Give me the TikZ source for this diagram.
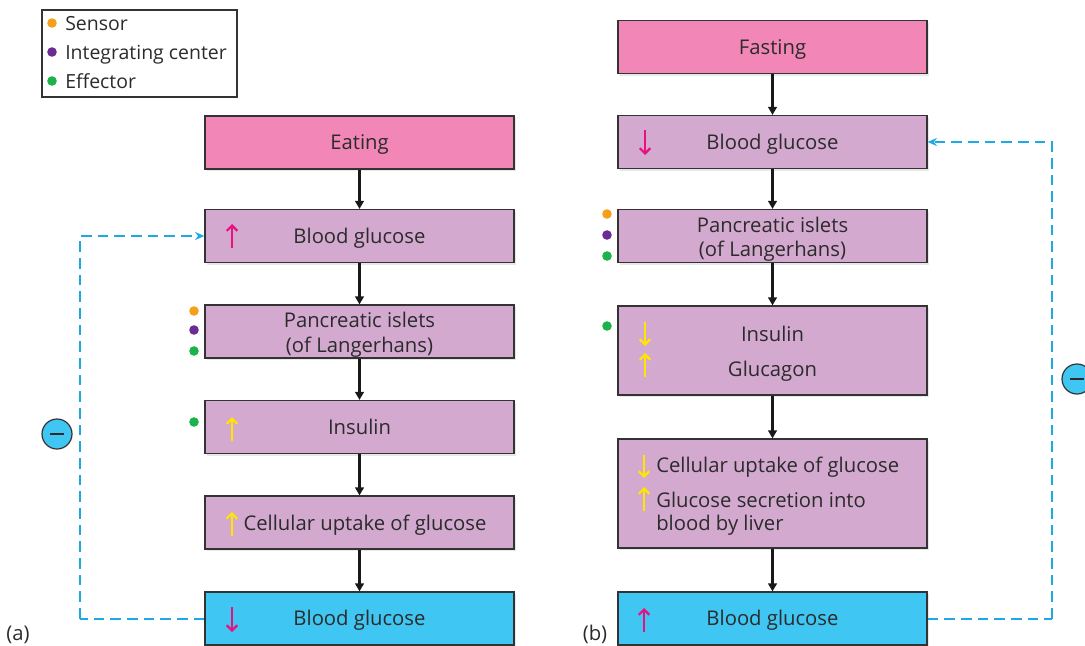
\documentclass[tikz,border=0pt]{standalone}
\usepackage{fontspec}
\setmainfont{Open Sans}
\usetikzlibrary{arrows.meta,shadows}
\definecolor{pinkbox}{HTML}{F287B7}
\definecolor{lavbox}{HTML}{D3A9D0}
\definecolor{bluebox}{HTML}{40C6F2}
\definecolor{fbblue}{HTML}{1DA9E6}
\definecolor{magarrow}{HTML}{E8117F}
\definecolor{yelarrow}{HTML}{FFE600}
\definecolor{sensorc}{HTML}{F6A01A}
\definecolor{intc}{HTML}{6B2C91}
\definecolor{effc}{HTML}{1BB24B}
\definecolor{txt}{HTML}{2B2B2B}
\definecolor{edge}{HTML}{333333}
\begin{document}
\begin{tikzpicture}[x=0.75pt,y=-0.75pt,
  every node/.style={text=txt},
  lbl/.style={font=\fontsize{15.2}{18.2}\selectfont},
  leg/.style={font=\fontsize{14.6}{18}\selectfont, anchor=mid west, inner sep=0pt},
  tx/.style={lbl, inner sep=0pt, align=center},
  box/.style={lbl, draw=edge, line width=0.9pt, minimum width=231.75pt, inner sep=0pt, align=center,
    drop shadow={opacity=0.18, shadow xshift=1.5pt, shadow yshift=-1.5pt}},
  hs/.style={minimum height=39.75pt},
  one/.style={text height=1.3em, text depth=0.25em},
  pinkb/.style={box, hs, one, fill=pinkbox},
  lavb/.style={box, fill=lavbox},
  blueb/.style={box, hs, one, fill=bluebox},
  flow/.style={draw=black!90, line width=1.6pt, -{Triangle[length=6pt,width=6.5pt]}},
  fb/.style={draw=fbblue, line width=1.5pt, dash pattern=on 8pt off 4.5pt, -{Stealth[length=7pt,width=6pt]}},
  fbl/.style={draw=fbblue, line width=1.5pt, dash pattern=on 8pt off 4.5pt},
  magup/.style={draw=magarrow, line width=1.6pt, -{Straight Barb[length=4pt,width=8pt]}},
  yelup/.style={draw=yelarrow, line width=1.6pt, -{Straight Barb[length=4pt,width=8pt]}},
  dot/.style={circle, inner sep=0pt, minimum size=7.2pt},
  minuscirc/.style={circle, draw=edge, line width=0.9pt, fill=bluebox, minimum size=22.5pt, inner sep=0pt}
]
\useasboundingbox (0,0) rectangle (1085,646);

% legend
\node[draw=edge, line width=0.8pt, minimum width=146.25pt, minimum height=65.25pt, inner sep=0pt] (legend) at (139.5,53.5) {};
\node[dot, fill=sensorc] (ls) at (52,23) {};
\node[dot, fill=intc] (li) at (52,52) {};
\node[dot, fill=effc] (le) at (52,81) {};
\node[leg] (lst) at (65,27) {Sensor};
\node[leg] (lit) at (65,56) {Integrating center};
\node[leg] (let) at (65,85) {Effector};

% ---------- (a) ----------
\node[pinkb] (eat) at (359.5,142.5) {Eating};
\node[lavb, hs, one] (bgL1) at (359.5,236) {Blood glucose};
\node[lavb, hs] (panL) at (359.5,331.5) {};
\node[tx] (panLt) at ([yshift=-2.4pt]panL.center) {Pancreatic islets\\(of Langerhans)};
\node[lavb, hs, one] (insL) at (359.5,427) {Insulin};
\node[lavb, hs] (cellL) at (359.5,522.5) {};
\node[lbl, inner sep=0pt, anchor=mid] (cellLt) at (365,527) {Cellular uptake of glucose};
\node[blueb] (bgL2) at (359.5,618.5) {Blood glucose};

\draw[flow] (eat) -- (bgL1);
\draw[flow] (bgL1) -- (panL);
\draw[flow] (panL) -- (insL);
\draw[flow] (insL) -- (cellL);
\draw[flow] (cellL) -- (bgL2);

\draw[magup] (232,248) -- (232,224);
\draw[magup] (232,607) -- (232,632);
\draw[yelup] (232,441) -- (232,417);
\draw[yelup] ([xshift=-8.5pt]cellLt.west |- 0,536) -- ([xshift=-8.5pt]cellLt.west |- 0,512);

\node[dot, fill=sensorc] (dLs) at (194,311) {};
\node[dot, fill=intc] (dLi) at (194,330) {};
\node[dot, fill=effc] (dLe) at (194,351) {};
\node[dot, fill=effc] (dLe2) at (194,422) {};

\coordinate (fbLc) at (80,618.5);
\draw[fbl] (bgL2.west) -- (fbLc);
\draw[fb] (fbLc) |- (bgL1.west);
\node[minuscirc] (mL) at (57,434) {};
\draw[line width=1.4pt, draw=txt] ([xshift=-5.5pt]mL.center) -- ([xshift=5.5pt]mL.center);

\node[lbl, inner sep=0pt, anchor=mid] (la) at (18,637) {(a)};

% ---------- (b) ----------
\node[pinkb] (fast) at (772.5,47) {Fasting};
\node[lavb, hs, one] (bgR1) at (772.5,142) {Blood glucose};
\node[lavb, hs] (panR) at (772.5,236) {};
\node[tx] (panRt) at ([yshift=-2.4pt]panR.center) {Pancreatic islets\\(of Langerhans)};
\node[lavb, minimum height=66.75pt] (insR) at (772.5,350.5) {};
\node[tx] (insRt) at ([yshift=-2.4pt]insR.center) {Insulin\\[7.5pt]Glucagon};
\node[lavb, minimum height=81.75pt] (cellR) at (772.5,493.5) {};
\node[lbl, anchor=mid west, inner sep=0pt] (cellR1) at (656,469) {Cellular uptake of glucose};
\node[lbl, anchor=mid west, inner sep=0pt] (cellR2) at (656,504) {Glucose secretion into};
\node[lbl, anchor=mid west, inner sep=0pt] (cellR3) at (656,527) {blood by liver};
\node[blueb] (bgR2) at (772.5,618.5) {Blood glucose};

\draw[flow] (fast) -- (bgR1);
\draw[flow] (bgR1) -- (panR);
\draw[flow] (panR) -- (insR);
\draw[flow] (insR) -- (cellR);
\draw[flow] (cellR) -- (bgR2);

\draw[magup] (645,130) -- (645,155);
\draw[yelup] (645,322) -- (645,346);
\draw[yelup] (645,377) -- (645,353);
\draw[yelup] (644,455) -- (644,478);
\draw[yelup] (644,511) -- (644,487);
\draw[magup] (644,632) -- (644,608);

\node[dot, fill=sensorc] (dRs) at (607,214) {};
\node[dot, fill=intc] (dRi) at (607,235) {};
\node[dot, fill=effc] (dRe) at (607,256) {};
\node[dot, fill=effc] (dRe2) at (607,326) {};

\coordinate (fbRc) at (1052,618.5);
\draw[fbl] (bgR2.east) -- (fbRc);
\draw[fb] (fbRc) |- (bgR1.east);
\node[minuscirc] (mR) at (1077,379) {};
\draw[line width=1.4pt, draw=txt] ([xshift=-5.5pt]mR.center) -- ([xshift=5.5pt]mR.center);

\node[lbl, inner sep=0pt, anchor=mid] (lb) at (595,637) {(b)};
\end{tikzpicture}
\end{document}
